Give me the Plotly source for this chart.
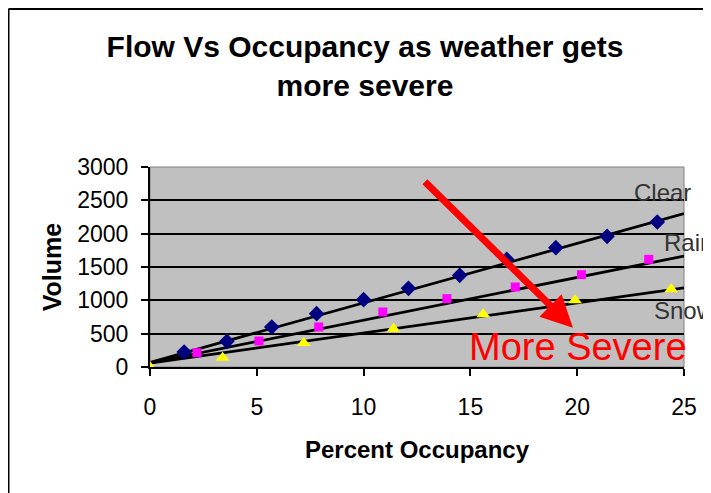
import plotly.graph_objects as go

clear_occ = [1.6, 3.6, 5.7, 7.8, 10.0, 12.1, 14.5, 16.7, 19.0, 21.4, 23.75]
clear_vol = [225, 385, 600, 800, 1010, 1180, 1375, 1615, 1790, 1960, 2175]
rain_occ = [2.2, 5.1, 7.9, 10.9, 13.9, 17.1, 20.2, 23.35]
rain_vol = [215, 390, 600, 825, 1025, 1200, 1385, 1615]
snow_occ = [0.0, 3.4, 7.2, 11.4, 15.6, 19.9, 24.4]
snow_vol = [0, 140, 360, 575, 790, 1000, 1165]

# trendline ends (at 0% and 25%)
trend_occ = [0, 25]
clear_trend = [70, 2300]
rain_trend = [62, 1665]
snow_trend = [58, 1188]

x_ticks = [0, 5, 10, 15, 20, 25]
y_ticks = [0, 500, 1000, 1500, 2000, 2500, 3000]

# page body has an 8px margin, so the figure is a bit smaller than the window
W, H = 703, 485
L, R, T, B = 142, 27, 159, 126
FONT = "Liberation Sans, Arial, sans-serif"

fig = go.Figure()

for ys in [clear_trend, rain_trend, snow_trend]:
    fig.add_trace(go.Scatter(x=trend_occ, y=ys, mode="lines",
                             line=dict(color="black", width=2.8),
                             showlegend=False, hoverinfo="skip"))

fig.add_trace(go.Scatter(x=clear_occ, y=clear_vol, mode="markers", name="Clear",
                         marker=dict(symbol="diamond", size=12, color="#000080")))
fig.add_trace(go.Scatter(x=rain_occ, y=rain_vol, mode="markers", name="Rain",
                         marker=dict(symbol="square", size=9, color="#FF00FF")))
fig.add_trace(go.Scatter(x=snow_occ, y=snow_vol, mode="markers", name="Snow",
                         marker=dict(symbol="triangle-up", size=12, color="#FFFF00")))

# series labels
for txt, x, y in [("Clear", 22.55, 2620), ("Rain", 23.95, 1870), ("Snow", 23.5, 850)]:
    fig.add_annotation(x=x, y=y, text=txt, showarrow=False, xanchor="left",
                       font=dict(family=FONT, size=24, color="#333333"))

fig.add_annotation(x=19.8, y=590, ax=12.8, ay=2800, axref="x", ayref="y",
                   text="", showarrow=True, arrowhead=2, arrowsize=0.9,
                   arrowwidth=7, arrowcolor="#FF0000", standoff=0)
fig.add_annotation(x=20.05, y=295, text="More Severe", showarrow=False,
                   font=dict(family=FONT, size=38, color="#FF0000"))

# outer frame of the page
pw, ph = W - L - R, H - T - B
fx = (0.5 - L) / pw
fy = (H - B - 1) / ph
fig.add_shape(type="line", xref="paper", yref="paper", x0=fx, x1=fx, y0=-2, y1=fy,
              line=dict(color="black", width=2))
fig.add_shape(type="line", xref="paper", yref="paper", x0=fx, x1=2, y0=fy, y1=fy,
              line=dict(color="black", width=2))
fig.add_shape(type="rect", xref="paper", yref="paper", x0=0, x1=1, y0=0, y1=1,
              line=dict(color="#808080", width=1), layer="below")

fig.update_layout(
    width=W, height=H,
    margin=dict(l=L, r=R, t=T, b=B, autoexpand=False),
    paper_bgcolor="white", plot_bgcolor="#C0C0C0",
    showlegend=False,
    font=dict(family=FONT, color="black"),
    title=dict(text="<b>Flow Vs Occupancy as weather gets<br>more severe</b>",
               x=357 / W, xanchor="center", y=1 - 49 / H, yanchor="top",
               font=dict(family=FONT, size=30, color="black")),
)
fig.update_xaxes(range=[0, 25], tickvals=x_ticks, showgrid=False, zeroline=False,
                 automargin=False,
                 showline=True, linecolor="black", linewidth=2,
                 ticks="outside", ticklen=7, tickwidth=1.5, tickcolor="black",
                 tickfont=dict(size=23), ticklabelstandoff=11,
                 title=dict(text="<b>Percent Occupancy</b>", font=dict(size=24), standoff=23))
fig.update_yaxes(range=[0, 3000], tickvals=y_ticks, showgrid=True, gridcolor="black",
                 gridwidth=1.5, zeroline=False, automargin=False,
                 showline=True, linecolor="black", linewidth=2,
                 ticks="outside", ticklen=7, tickwidth=1.5, tickcolor="black",
                 tickfont=dict(size=23), ticklabelstandoff=8,
                 title=dict(text="<b>Volume</b>", font=dict(size=25), standoff=8))

fig.write_html("out.html")
